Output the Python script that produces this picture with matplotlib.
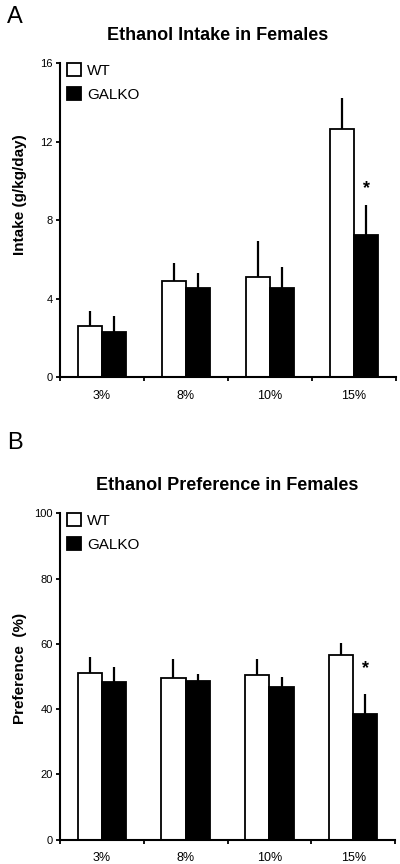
import numpy as np
import matplotlib
matplotlib.use("Agg")
import matplotlib.pyplot as plt

plt.rcParams['font.family'] = ['Liberation Sans', 'DejaVu Sans']

concentrations = ["3%", "8%", "10%", "15%"]

# panel A: intake (g/kg/day)
intake_wt = [2.6, 4.91, 5.1, 12.62]
intake_wt_sem = [0.8, 0.9, 1.86, 1.58]
intake_ko = [2.33, 4.57, 4.55, 7.26]
intake_ko_sem = [0.8, 0.76, 1.05, 1.5]

# panel B: preference (%)
pref_wt = [51.1, 49.4, 50.6, 56.6]
pref_wt_sem = [4.8, 5.9, 4.9, 3.6]
pref_ko = [48.4, 48.7, 46.7, 38.4]
pref_ko_sem = [4.4, 2.2, 3.1, 6.3]

intake_ticks = [0, 4, 8, 12, 16]
pref_ticks = [0, 20, 40, 60, 80, 100]

BW = 0.29


def draw_panel(ax, wt, wt_sem, ko, ko_sem, yticks, ylabel, star_y):
    x = np.arange(len(concentrations))
    ax.bar(x - BW / 2, wt, BW, color="white", edgecolor="black", linewidth=1.3,
           label="WT", zorder=2)
    ax.bar(x + BW / 2, ko, BW, color="black", edgecolor="black", linewidth=1.3,
           label="GALKO", zorder=2)
    zeros = [0] * len(x)
    ax.errorbar(x - BW / 2, wt, yerr=[zeros, wt_sem], fmt="none", ecolor="black",
                elinewidth=1.6, capsize=0, zorder=1)
    ax.errorbar(x + BW / 2, ko, yerr=[zeros, ko_sem], fmt="none", ecolor="black",
                elinewidth=1.6, capsize=0, zorder=1)
    ax.text(3 + BW / 2, star_y, "*", ha="center", va="center", fontsize=13,
            fontweight="bold")

    ax.set_xlim(-0.5, 3.5)
    ax.set_ylim(yticks[0], yticks[-1])
    ax.set_yticks(yticks)
    ax.tick_params(axis="y", labelsize=8, length=3, width=1.3, pad=2)
    # category boundaries get the tick marks, centres get the labels
    ax.set_xticks(np.arange(-0.5, 4, 1.0))
    ax.set_xticklabels([])
    ax.set_xticks(x, minor=True)
    ax.set_xticklabels(concentrations, minor=True)
    ax.tick_params(axis="x", which="major", length=3, width=1.3)
    ax.tick_params(axis="x", which="minor", length=0, labelsize=9, pad=9)

    for s in ["top", "right"]:
        ax.spines[s].set_visible(False)
    ax.spines["left"].set_linewidth(1.5)
    ax.spines["bottom"].set_linewidth(1.5)

    ax.set_ylabel(ylabel, fontsize=11, fontweight="bold")
    ax.legend(loc="upper left", bbox_to_anchor=(0.02, 1.0), frameon=False,
              fontsize=11, handlelength=0.95, handleheight=0.95, handletextpad=0.4,
              labelspacing=0.6, borderpad=0, borderaxespad=0)


fig = plt.figure(figsize=(4, 8.64), dpi=100)

ax1 = fig.add_axes([0.15, 0.5631, 0.84, 0.364])
draw_panel(ax1, intake_wt, intake_wt_sem, intake_ko, intake_ko_sem,
           intake_ticks, "Intake (g/kg/day)", 9.6)
ax1.yaxis.set_label_coords(-0.098, 0.58)
fig.text(0.5435, 1 - 35 / 864, "Ethanol Intake in Females", ha="center",
         va="center", fontsize=13, fontweight="bold")
fig.text(0.017, 1 - 6 / 864, "A", ha="left", va="top", fontsize=17)

ax2 = fig.add_axes([0.15, 0.0281, 0.8375, 0.3778])
draw_panel(ax2, pref_wt, pref_wt_sem, pref_ko, pref_ko_sem,
           pref_ticks, "Preference  (%)", 52.5)
ax2.yaxis.set_label_coords(-0.098, 0.525)
fig.text(0.569, 1 - 485 / 864, "Ethanol Preference in Females", ha="center",
         va="center", fontsize=13, fontweight="bold")
fig.text(0.017, 1 - 432 / 864, "B", ha="left", va="top", fontsize=17)

fig.savefig("out.png", dpi=100)
